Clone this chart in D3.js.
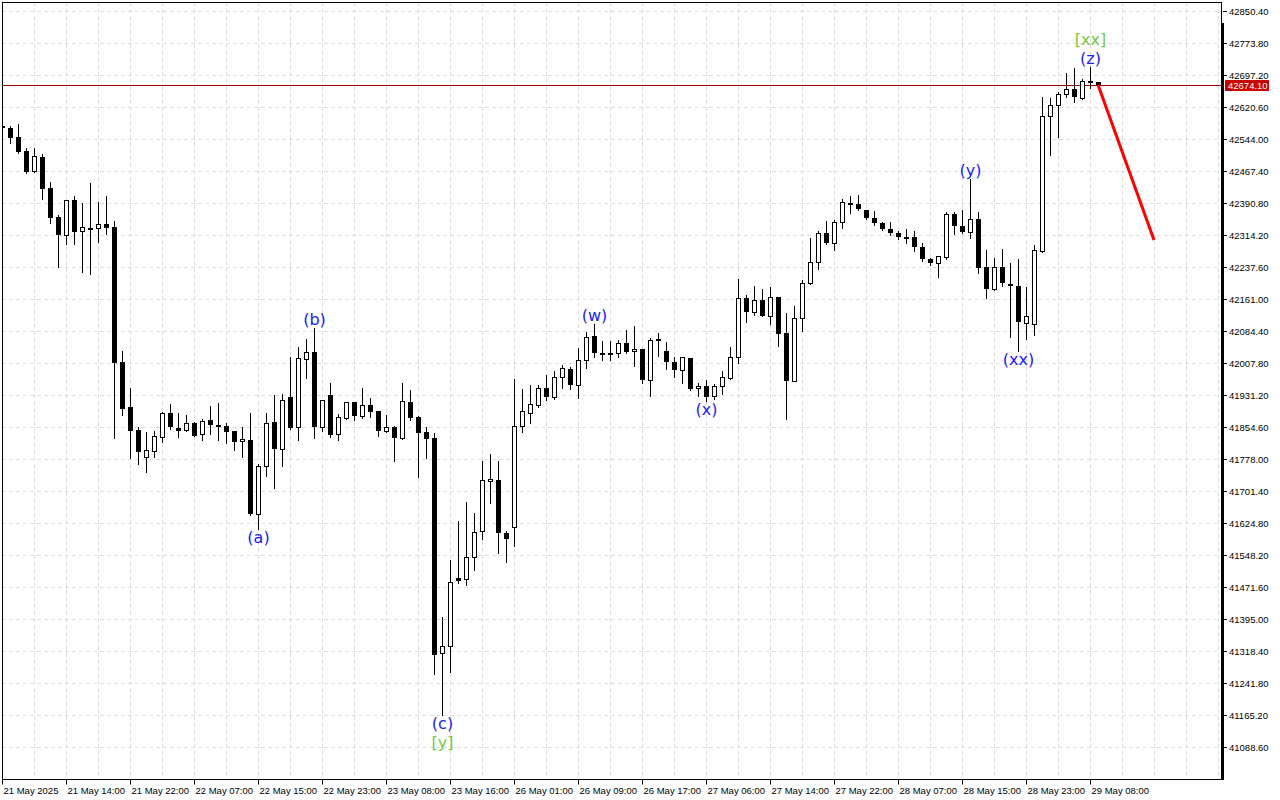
<!DOCTYPE html>
<html>
<head>
<meta charset="utf-8">
<script src="https://cdn.jsdelivr.net/npm/d3@7"></script>
<style>
body{margin:0;background:#fff}
svg{display:block}
</style>
</head>
<body>
<script>
//hourly bars (one entry per bar)
var openP = [
42575.1,42569.6,42548.0,42514.5,42466.6,42500.8,42425.9,42357.2,42313.4,42397.2,
42323.0,42330.1,42330.1,42339.7,42333.3,42009.4,41902.3,41847.3,41781.9,41796.3,
41829.8,41888.0,41852.1,41846.6,41864.0,41837.0,41871.2,41860.0,41856.1,41844.9,
41820.2,41823.3,41646.9,41760.4,41865.7,41802.5,41926.3,41853.7,42018.0,42033.3,
41855.2,41930.3,41837.0,41876.7,41913.6,41880.1,41906.4,41892.8,41844.2,41854.5,
41827.4,41914.3,41878.4,41842.5,41828.1,41312.7,41329.5,41493.7,41489.8,41542.5,
41604.8,41724.5,41726.9,41601.4,41614.3,41856.1,41888.7,41906.4,41947.1,41925.6,
41973.4,41992.6,41954.3,42014.1,42071.6,42030.9,42031.2,42030.9,42054.8,42035.7,
42040.5,41966.3,42064.4,42035.7,42009.4,41990.2,42018.9,41947.1,41951.9,41928.0,
41951.9,41971.8,42021.3,42163.3,42130.5,42157.8,42120.9,42165.0,42078.8,41965.3,
42116.1,42199.9,42248.8,42318.2,42294.2,42344.5,42390.0,42387.6,42373.2,42354.1,
42342.1,42327.8,42318.2,42308.6,42308.6,42284.7,42255.9,42246.4,42260.7,42363.7,
42334.9,42320.6,42351.7,42236.8,42184.1,42236.8,42196.1,42191.3,42102.7,42100.3,
42275.1,42598.3,42624.6,42650.9,42662.9,42641.4,42682.1,42679.7];
var highP = [
42577.5,42575.8,42579.8,42521.7,42521.7,42508.7,42441.0,42361.3,42397.2,42407.5,
42390.7,42438.6,42393.1,42407.5,42347.6,42036.4,41947.8,41854.5,41842.5,41845.6,
41890.4,41909.5,41888.0,41883.9,41866.4,41874.3,41905.5,41911.9,41863.3,41844.9,
41854.5,41887.3,41765.9,41887.3,41930.3,41933.5,42022.0,42046.0,42065.1,42090.7,
41919.1,41959.8,41885.6,41913.6,41915.0,41947.8,41923.9,41894.0,41883.2,41856.0,
41959.8,41943.0,41880.0,41854.5,41840.1,41399.6,41536.1,41630.2,41675.6,41648.6,
41773.1,41789.8,41773.1,41604.8,41969.4,41945.4,41955.0,41955.0,41978.2,41987.8,
42002.2,41997.4,42042.9,42081.2,42100.3,42059.6,42059.6,42062.0,42086.0,42097.0,
42041.0,42066.8,42078.8,42058.0,42021.3,42023.0,42020.0,41959.1,41966.3,41956.7,
41987.8,42045.3,42208.8,42170.5,42192.0,42184.1,42188.9,42166.4,42126.7,42143.4,
42206.4,42306.9,42323.0,42346.9,42349.3,42399.6,42406.8,42409.1,42374.0,42370.9,
42344.5,42344.5,42323.0,42327.8,42323.0,42294.2,42258.3,42264.0,42368.5,42368.5,
42373.2,42447.5,42368.5,42277.5,42258.3,42279.9,42246.4,42255.9,42188.9,42289.4,
42643.8,42641.4,42655.7,42701.2,42713.2,42686.9,42715.6,42680.5];
var lowP = [
42567.9,42533.6,42509.7,42463.3,42465.7,42401.0,42343.6,42236.8,42291.8,42291.8,
42226.3,42221.5,42298.1,42317.2,41827.4,41883.2,41781.0,41765.2,41747.4,41783.4,
41817.8,41850.4,41831.2,41845.6,41832.2,41824.1,41837.0,41824.1,41816.2,41800.1,
41783.4,41645.0,41609.6,41737.9,41709.1,41761.8,41850.0,41824.1,41972.5,41827.4,
41844.2,41831.2,41822.6,41872.9,41870.5,41876.7,41878.4,41832.9,41843.0,41773.8,
41826.0,41871.9,41735.5,41781.0,41263.9,41165.0,41268.6,41481.7,41476.2,41511.4,
41586.3,41673.2,41552.8,41532.0,41569.6,41843.2,41864.8,41901.6,41918.4,41922.2,
41947.1,41945.4,41923.2,41995.0,42021.3,42014.1,42014.5,42021.3,42030.9,41999.8,
41959.1,41929.4,42025.2,41994.0,41973.4,41959.1,41944.0,41929.4,41916.0,41920.8,
41932.7,41970.1,42008.4,42106.6,42123.3,42120.0,42101.8,42049.1,41874.3,41964.0,
42085.0,42196.8,42232.0,42293.0,42277.5,42330.1,42366.1,42374.0,42351.7,42337.3,
42325.4,42313.4,42303.8,42294.2,42275.1,42251.1,42241.6,42212.8,42255.9,42315.8,
42319.0,42306.2,42222.4,42162.6,42183.0,42191.3,42070.6,42037.1,42064.4,42074.0,
42274.0,42506.3,42549.4,42643.8,42631.8,42640.0,42665.3,42673.5];
var closeP = [
42570.3,42547.0,42512.8,42464.9,42502.5,42425.0,42355.5,42313.4,42397.2,42322.0,
42332.5,42331.0,42339.7,42330.1,42008.4,41896.8,41845.6,41795.3,41799.4,41832.2,
41888.0,41853.7,41845.6,41863.3,41833.6,41868.1,41858.5,41856.9,41843.2,41819.7,
41825.0,41646.9,41761.1,41864.0,41802.5,41919.1,41852.1,42018.9,42033.3,41855.2,
41919.1,41835.3,41877.7,41913.6,41880.1,41906.4,41891.1,41844.2,41853.7,41828.8,
41916.0,41876.7,41840.8,41826.5,41308.6,41329.5,41482.7,41486.5,41542.5,41602.4,
41726.9,41730.0,41601.4,41587.1,41856.1,41892.0,41908.8,41947.1,41925.6,41973.4,
41995.0,41954.3,42014.1,42069.2,42030.9,42031.5,42030.5,42054.8,42033.3,42040.5,
41966.3,42062.0,42059.6,42009.4,41990.2,42021.3,41945.4,41951.9,41925.6,41951.9,
41973.4,42021.3,42163.3,42130.5,42157.8,42120.9,42165.0,42077.8,41965.3,42114.7,
42198.5,42248.8,42318.2,42294.2,42344.5,42392.4,42388.0,42375.6,42354.1,42342.1,
42327.8,42318.2,42308.6,42308.0,42284.7,42255.9,42246.4,42263.1,42363.7,42335.7,
42320.6,42351.7,42236.3,42184.1,42236.8,42198.5,42191.3,42105.1,42119.5,42277.5,
42598.3,42624.6,42650.9,42662.9,42643.8,42682.1,42681.5,42674.1];

var lastPrice = 42674.10;

//price scale ticks
var priceTicks = [41088.6,41165.2,41241.8,41318.4,41395.0,41471.6,41548.2,41624.8,
	41701.4,41778.0,41854.6,41931.2,42007.8,42084.4,42161.0,42237.6,42314.2,42390.8,
	42467.4,42544.0,42620.6,42697.2,42773.8,42850.4];

//time labels, one every 8 bars
var timeBars = [0,8,16,24,32,40,48,56,64,72,80,88,96,104,112,120,128,136];
var timeLabels = ["21 May 2025","21 May 14:00","21 May 22:00","22 May 07:00","22 May 15:00",
	"22 May 23:00","23 May 08:00","23 May 16:00","26 May 01:00","26 May 09:00","26 May 17:00",
	"27 May 06:00","27 May 14:00","27 May 22:00","28 May 07:00","28 May 15:00","28 May 23:00",
	"29 May 08:00"];

//wave marks
var waveText = ["(a)","(b)","(c)","[y]","(w)","(x)","(y)","(xx)","(z)","[xx]"];
var waveBar  = [32,39,55,55,74,88,121,127,136,136];
var waveSide = ["below","above","below","below","above","below","above","below","above","above"];
var waveRow  = [0,0,0,1,0,0,0,0,0,1];
var waveMinor = [true,true,true,false,true,true,true,true,true,false];

//forecast line
var projBars = [137,144];
var projPrices = [42674.1,42302.0];

var width = 1280, height = 800;
var plotL = 2, plotR = 1222, plotT = 2, plotB = 779;

var svg = d3.select("body").append("svg")
	.attr("width", width)
	.attr("height", height);

var x = d3.scaleLinear().domain([0,152]).range([2,1218]);
var y = d3.scaleLinear().domain([41088.6,42850.4]).range([747,11]);

svg.append("defs").append("clipPath").attr("id","plotclip")
	.append("rect").attr("x",plotL).attr("y",plotT).attr("width",plotR-plotL).attr("height",plotB-plotT);

//grid
var grid = svg.append("g").attr("stroke","#dcdcdc").attr("stroke-dasharray","4,3").attr("shape-rendering","crispEdges");
grid.selectAll(".hg").data(priceTicks).enter().append("line")
	.attr("x1",plotL).attr("x2",plotR)
	.attr("y1",function(d){return Math.round(y(d))+0.5;})
	.attr("y2",function(d){return Math.round(y(d))+0.5;});
grid.selectAll(".vg").data(d3.range(4,153,4)).enter().append("line")
	.attr("x1",function(d){return Math.round(x(d))+0.5;})
	.attr("x2",function(d){return Math.round(x(d))+0.5;})
	.attr("y1",plotT).attr("y2",plotB);

var plot = svg.append("g").attr("clip-path","url(#plotclip)");

//current price line
plot.append("line")
	.attr("x1",plotL).attr("x2",plotR)
	.attr("y1",Math.round(y(lastPrice))+0.5).attr("y2",Math.round(y(lastPrice))+0.5)
	.attr("stroke","#a00000").attr("stroke-width",1);

//candles
var bars = d3.range(closeP.length);
var candles = plot.selectAll(".candle").data(bars).enter().append("g")
	.attr("class","candle").attr("shape-rendering","crispEdges");

candles.append("line")
	.attr("x1",function(i){return Math.round(x(i))+0.5;})
	.attr("x2",function(i){return Math.round(x(i))+0.5;})
	.attr("y1",function(i){return Math.round(y(highP[i]));})
	.attr("y2",function(i){return Math.round(y(lowP[i]))+1;})
	.attr("stroke","#000");

candles.append("rect")
	.attr("x",function(i){return closeP[i]>openP[i] ? Math.round(x(i))-1.5 : Math.round(x(i))-2;})
	.attr("y",function(i){
		var t = Math.round(y(Math.max(openP[i],closeP[i])));
		return closeP[i]>openP[i] ? t+0.5 : t;})
	.attr("width",function(i){return closeP[i]>openP[i] ? 4 : 5;})
	.attr("height",function(i){
		var h = Math.round(y(Math.min(openP[i],closeP[i]))) - Math.round(y(Math.max(openP[i],closeP[i])));
		return closeP[i]>openP[i] ? Math.max(h,1) : Math.max(h,2);})
	.attr("fill",function(i){return closeP[i]>openP[i] ? "#fff" : "#000";})
	.attr("stroke",function(i){return closeP[i]>openP[i] ? "#000" : "none";});

//forecast
plot.append("path")
	.datum(d3.zip(projBars,projPrices))
	.attr("d",d3.line().x(function(d){return x(d[0]);}).y(function(d){return y(d[1]);}))
	.attr("fill","none").attr("stroke","#ff0000").attr("stroke-width",3);

//wave labels
svg.selectAll(".wave").data(waveText).enter().append("text")
	.attr("class","wave")
	.attr("x",function(d,k){return x(waveBar[k])+0.5;})
	.attr("y",function(d,k){
		var b = waveBar[k];
		if (waveSide[k]=="below") return y(lowP[b]) + 14 + waveRow[k]*19;
		return y(highP[b]) - 3 - waveRow[k]*19;})
	.attr("text-anchor","middle")
	.style("font-family","'DejaVu Sans', sans-serif")
	.style("font-size","16px")
	.attr("fill",function(d,k){return waveMinor[k] ? "#2020f8" : "#74c83c";})
	.text(function(d){return d;});

//frame
svg.append("rect")
	.attr("x",plotL+0.5).attr("y",plotT+0.5)
	.attr("width",plotR-plotL-1).attr("height",plotB-plotT)
	.attr("fill","none").attr("stroke","#000").attr("shape-rendering","crispEdges");
svg.append("line")
	.attr("x1",plotR+0.5).attr("x2",plotR+0.5).attr("y1",23).attr("y2",plotB+1)
	.attr("stroke","#000").attr("stroke-width",3);

//price axis
var yAxis = svg.append("g")
	.attr("transform","translate("+(plotR+1)+",0)")
	.call(d3.axisRight(y).tickValues(priceTicks).tickSize(4).tickPadding(2)
		.tickFormat(d3.format(".2f")));
yAxis.select(".domain").remove();
yAxis.selectAll("text").style("font-family","'Liberation Sans', Arial, sans-serif").style("font-size","9.5px").attr("fill","#000");

//time axis
var xAxis = svg.append("g")
	.attr("transform","translate(0,"+(plotB+0.5)+")")
	.call(d3.axisBottom(x).tickValues(timeBars).tickSize(5).tickPadding(3)
		.tickFormat(function(d,k){return timeLabels[k];}));
xAxis.select(".domain").remove();
xAxis.selectAll("text").attr("text-anchor","start").attr("x",1)
	.style("font-family","'Liberation Sans', Arial, sans-serif").style("font-size","9.5px").attr("fill","#000");

//last price tag
var tagY = Math.round(y(lastPrice));
svg.append("rect").attr("x",1225).attr("y",tagY-5).attr("width",44).attr("height",11).attr("fill","#c80000");
svg.append("text").attr("x",1228).attr("y",tagY+4)
	.style("font-family","'Liberation Sans', Arial, sans-serif").style("font-size","9.5px")
	.attr("fill","#fff").text(d3.format(".2f")(lastPrice));
</script>
</body>
</html>
